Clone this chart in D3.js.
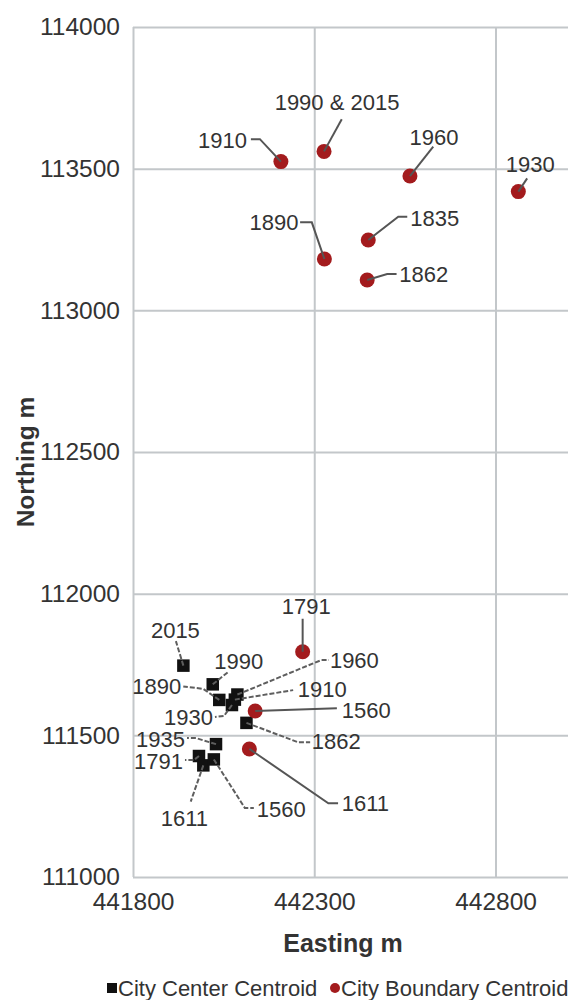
<!DOCTYPE html>
<html>
<head>
<meta charset="utf-8">
<script src="https://cdn.jsdelivr.net/npm/d3@7"></script>
<style>
  body { margin: 0; background: #fff; }
  svg { display: block; font-family: "Liberation Sans", Arial, sans-serif; }
</style>
</head>
<body>
<svg id="chart" width="571" height="1000"></svg>
<script>
// City Center Centroid (squares)
var centerYears = ["2015", "1990", "1890", "1960", "1910", "1930", "1862", "1935", "1791", "1611", "1560"];
var centerEasting = [441939, 442020, 442038, 442088, 442081, 442073, 442113, 442029, 441982, 441994, 442023];
var centerNorthing = [111746, 111680, 111625, 111644, 111626, 111607, 111544, 111469, 111427, 111394, 111415];

// City Boundary Centroid (circles)
var boundaryYears = ["1910", "1990 & 2015", "1960", "1930", "1890", "1835", "1862", "1791", "1560", "1611"];
var boundaryEasting = [442208, 442327, 442564, 442863, 442328, 442449, 442446, 442268, 442137, 442121];
var boundaryNorthing = [113525, 113561, 113474, 113419, 113181, 113248, 113107, 111795, 111586, 111452];

var xTicks = [441800, 442300, 442800];
var yTicks = [111000, 111500, 112000, 112500, 113000, 113500, 114000];

// label callouts: leader path offsets (px from point) and text offset
var centerLabels = [
  {path: [[-7.5, -24.5]], text: [-8, -35.5], anchor: "middle"},
  {path: [[15, -12]], text: [26, -23], anchor: "middle"},
  {path: [[-16, -11], [-36, -13.5]], text: [-38, -14], anchor: "end"},
  {path: [[84, -34.5], [91.5, -34.5]], text: [92.5, -34.5], anchor: "start"},
  {path: [[58.3, -9.5]], text: [63, -10.5], anchor: "start"},
  {path: [[-8, 11], [-17, 12]], text: [-19, 12], anchor: "end"},
  {path: [[52, 19.5], [63.7, 19.5]], text: [65.4, 18], anchor: "start"},
  {path: [[-20, -6], [-29, -6]], text: [-31, -5], anchor: "end"},
  {path: [[-5, 4], [-14, 4]], text: [-16, 5], anchor: "end"},
  {path: [[-12.6, 36.2]], text: [-19, 52.5], anchor: "middle"},
  {path: [[31, 48.5], [40, 48.5]], text: [43, 49.5], anchor: "start"}
];
var boundaryLabels = [
  {path: [[-21, -22.4], [-30, -22.4]], text: [-34, -22], anchor: "end"},
  {path: [[17.7, -32.2]], text: [13, -49], anchor: "middle"},
  {path: [[23.3, -29.3]], text: [24, -39.3], anchor: "middle"},
  {path: [[8.8, -13.2]], text: [12, -28], anchor: "middle"},
  {path: [[-12.6, -36.7], [-24.3, -36.7]], text: [-26, -37], anchor: "end"},
  {path: [[30, -23.3], [39, -23.3]], text: [42, -22], anchor: "start"},
  {path: [[20, -6], [29.4, -6]], text: [32, -6], anchor: "start"},
  {path: [[0, -33]], text: [3.5, -46], anchor: "middle"},
  {path: [[81.7, -2.7]], text: [86.7, -1], anchor: "start"},
  {path: [[79, 54.3], [88.7, 54.3]], text: [92.4, 54], anchor: "start"}
];

var margin = {top: 27, left: 133};
var width = 435, height = 850;
var gridColor = "#c3c7ca";
var textColor = "#333";
var red = "#a31b1d";

var svg = d3.select("#chart");
var g = svg.append("g")
  .attr("transform", "translate(" + margin.left + "," + margin.top + ")");

var x = d3.scaleLinear().domain([441800, 443000]).range([0, width]);
var y = d3.scaleLinear().domain([111000, 114000]).range([height, 0]);

var yAxis = g.append("g")
  .call(d3.axisLeft(y).tickValues(yTicks).tickSize(-width).tickPadding(13).tickFormat(d3.format("d")));
var xAxis = g.append("g")
  .attr("transform", "translate(0," + height + ")")
  .call(d3.axisBottom(x).tickValues(xTicks).tickSize(-height).tickPadding(16).tickFormat(d3.format("d")));

[xAxis, yAxis].forEach(function(a) {
  a.select(".domain").remove();
  a.selectAll(".tick line").attr("stroke", gridColor).attr("stroke-width", 2);
  a.selectAll(".tick text").attr("fill", textColor).style("font-size", "24.5px");
});

var centerData = centerYears.map(function(yr, i) {
  return {year: yr, e: centerEasting[i], n: centerNorthing[i], lab: centerLabels[i]};
});
var boundaryData = boundaryYears.map(function(yr, i) {
  return {year: yr, e: boundaryEasting[i], n: boundaryNorthing[i], lab: boundaryLabels[i]};
});

// markers
g.selectAll(".center").data(centerData).enter().append("rect")
  .attr("class", "center")
  .attr("x", function(d) { return x(d.e) - 6.25; })
  .attr("y", function(d) { return y(d.n) - 6.25; })
  .attr("width", 12.5).attr("height", 12.5)
  .attr("fill", "#111");

g.selectAll(".boundary").data(boundaryData).enter().append("circle")
  .attr("class", "boundary")
  .attr("cx", function(d) { return x(d.e); })
  .attr("cy", function(d) { return y(d.n); })
  .attr("r", 7.5)
  .attr("fill", red);

function leader(d) {
  var px = x(d.e), py = y(d.n);
  var pts = [[px, py]].concat(d.lab.path.map(function(p) { return [px + p[0], py + p[1]]; }));
  return d3.line()(pts);
}

g.selectAll(".lc").data(centerData).enter().append("path")
  .attr("d", leader)
  .attr("fill", "none")
  .attr("stroke", "#5e5e5e")
  .attr("stroke-width", 2)
  .attr("stroke-dasharray", "5,2");

g.selectAll(".lb").data(boundaryData).enter().append("path")
  .attr("d", leader)
  .attr("fill", "none")
  .attr("stroke", "#555")
  .attr("stroke-width", 2);

g.selectAll(".tl").data(centerData.concat(boundaryData)).enter().append("text")
  .attr("x", function(d) { return x(d.e) + d.lab.text[0]; })
  .attr("y", function(d) { return y(d.n) + d.lab.text[1]; })
  .attr("dy", "0.36em")
  .attr("text-anchor", function(d) { return d.lab.anchor; })
  .attr("fill", textColor)
  .style("font-size", "22px")
  .text(function(d) { return d.year; });

// axis titles
svg.append("text")
  .attr("x", 343).attr("y", 952)
  .attr("text-anchor", "middle")
  .attr("fill", textColor)
  .style("font-size", "25px").style("font-weight", "bold")
  .text("Easting m");

svg.append("text")
  .attr("transform", "translate(34,462) rotate(-90)")
  .attr("text-anchor", "middle")
  .attr("fill", textColor)
  .style("font-size", "24.5px").style("font-weight", "bold")
  .text("Northing m");

// legend
var legend = svg.append("g");
legend.append("rect").attr("x", 107).attr("y", 983).attr("width", 10).attr("height", 10).attr("fill", "#111");
legend.append("text").attr("x", 118).attr("y", 996).attr("fill", textColor)
  .style("font-size", "22px").text("City Center Centroid");
legend.append("circle").attr("cx", 335).attr("cy", 988).attr("r", 5).attr("fill", red);
legend.append("text").attr("x", 341).attr("y", 996).attr("fill", textColor)
  .style("font-size", "22px").text("City Boundary Centroid");
</script>
</body>
</html>
